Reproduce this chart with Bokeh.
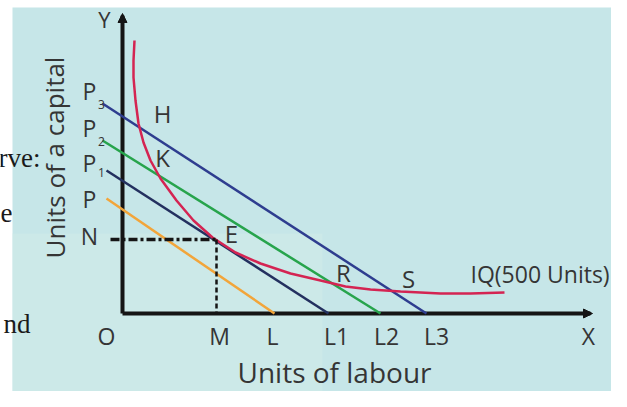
from bokeh.plotting import figure
from bokeh.models import Range1d, Arrow, NormalHead
from bokeh.core.properties import value
from bokeh.embed import file_html
from bokeh.resources import INLINE

# ---- data (units of labour on x, units of capital on y) ----
line_names = ["P3L3", "P2L2", "P1L1", "PL"]
line_x_start = [-1.0, -1.0, -0.8, -0.8]
line_y_start = [10.5, 8.65, 7.15, 5.75]
line_x_end = [15.2, 12.9, 10.3, 7.6]      # L3, L2, L1, L
line_y_end = [0.0, 0.0, 0.0, 0.0]
line_colors = ["#2e3d8f", "#27a44c", "#23305f", "#f2a53a"]

iq_x = [0.6, 0.55, 0.55, 0.65, 0.8, 1.05, 1.4, 1.9, 2.7, 3.55, 4.5, 5.65, 6.9,
        8.4, 9.9, 11.15, 12.4, 13.9, 15.9, 17.4, 19.1]
iq_y = [13.65, 12.65, 11.8, 10.65, 9.5, 8.55, 7.65, 6.75, 5.65, 4.65, 3.8, 3.05,
        2.5, 2.0, 1.65, 1.35, 1.2, 1.1, 1.0, 1.0, 1.05]

E_x, E_y = 4.7, 3.7
x_axis_end = 23.4
y_axis_end = 14.9

axis_labels = ["O", "M", "L", "L1", "L2", "L3", "X"]
axis_label_x = [-0.8, 4.85, 7.5, 10.7, 13.2, 15.7, 23.3]

p_labels = ["P", "P", "P", "P", "N"]
p_label_y = [11.15, 9.3, 7.55, 5.75, 3.9]
p_subs = ["3", "2", "1"]
p_sub_y = [10.45, 8.6, 7.05]

pt_labels = ["H", "K", "E", "R", "S"]
pt_x = [2.0, 2.0, 5.45, 11.05, 14.3]
pt_y = [10.0, 7.8, 4.0, 2.05, 1.75]

FONT = value("Open Sans")
TXT = "#353535"

p = figure(width=611, height=391, output_backend="svg", toolbar_location=None,
           x_range=Range1d(-6.1, 24.45), y_range=Range1d(-3.9, 15.65),
           x_axis_type=None, y_axis_type=None, min_border=0)
p.grid.visible = False
p.outline_line_color = None
p.background_fill_color = "white"
p.border_fill_color = "white"

# panel background
p.quad(left=[-5.5], right=[24.7], bottom=[-6], top=[15.3],
       fill_color="#c6e6e8", line_color=None)
p.quad(left=[-5.5], right=[10], bottom=[-6], top=[4],
       fill_color="#d2ece8", line_color=None, fill_alpha=0.5)

# axes
p.line([0, 0], [0, y_axis_end], line_color="#151515", line_width=4)
p.line([0, x_axis_end], [0, 0], line_color="#151515", line_width=4)
p.add_layout(Arrow(end=NormalHead(size=9, fill_color="#151515", line_color="#151515"),
                   x_start=0, y_start=y_axis_end - 0.3, x_end=0, y_end=y_axis_end + 0.1,
                   line_width=1, line_color="#151515"))
p.add_layout(Arrow(end=NormalHead(size=9, fill_color="#151515", line_color="#151515"),
                   x_start=x_axis_end - 0.3, y_start=0, x_end=x_axis_end + 0.1, y_end=0,
                   line_width=1, line_color="#151515"))

# price lines
for xs, ys, xe, ye, c in zip(line_x_start, line_y_start, line_x_end, line_y_end, line_colors):
    p.line([xs, xe], [ys, ye], line_color=c, line_width=2.5)

# isoquant
p.line(iq_x, iq_y, line_color="#d42452", line_width=2.5)

# dashed guides
p.line([-0.6, E_x], [E_y, E_y], line_color="#151515", line_width=3.5, line_dash="9 3 3 3")
p.line([E_x, E_x], [E_y, 0], line_color="#151515", line_width=2.5, line_dash="5 3")

# labels
p.text(x=axis_label_x, y=[-1.1] * len(axis_labels), text=axis_labels,
       text_font=FONT, text_font_size=value("23px"), text_color=TXT,
       text_align="center", text_baseline="middle")
p.text(x=[-1.65] * len(p_labels), y=p_label_y, text=p_labels,
       text_font=FONT, text_font_size=value("23px"), text_color=TXT,
       text_align="center", text_baseline="middle")
p.text(x=[-1.05] * len(p_subs), y=p_sub_y, text=p_subs,
       text_font=FONT, text_font_size=value("12px"), text_color=TXT,
       text_align="center", text_baseline="middle")
p.text(x=pt_x, y=pt_y, text=pt_labels,
       text_font=FONT, text_font_size=value("24px"), text_color=TXT,
       text_align="center", text_baseline="middle")
p.text(x=[-0.9], y=[14.75], text=["Y"], text_font=FONT, text_font_size=value("22px"),
       text_color=TXT, text_align="center", text_baseline="middle")
p.text(x=[17.4], y=[2.0], text=["IQ(500 Units)"], text_font=FONT,
       text_font_size=value("23px"), text_color=TXT, text_align="left",
       text_baseline="middle")
p.text(x=[10.6], y=[-2.9], text=["Units of labour"], text_font=FONT,
       text_font_size=value("28px"), text_color=TXT, text_align="center",
       text_baseline="middle")
p.text(x=[-3.4], y=[7.8], text=["Units of a capital"], angle=1.5708, text_font=FONT,
       text_font_size=value("26px"), text_color=TXT, text_align="center",
       text_baseline="middle")

# fragments of surrounding page text
SERIF = value("Liberation Serif")
p.text(x=[-4.1, -5.5, -4.6], y=[7.8, 5.05, -0.5], text=["rve:", "e", "nd"],
       text_font=SERIF, text_font_size=value("27px"), text_color="#1a1a1a",
       text_align="right", text_baseline="middle")

open("out.html", "w").write(file_html(p, INLINE))
